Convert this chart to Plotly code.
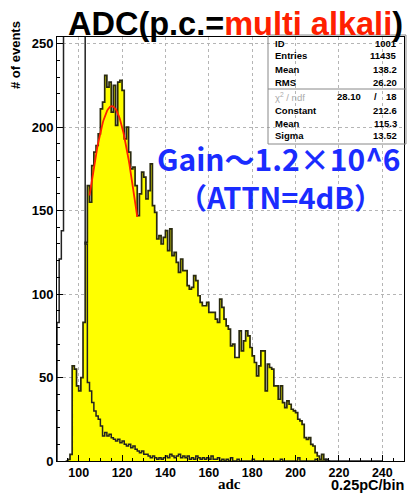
import numpy as np
import plotly.graph_objects as go

# ---------------- data ----------------
# signal histogram (yellow), bins [n, n+1)
sig_start = 94
sig_counts = [0, 1, 4, 57, 55, 45, 42, 50, 83, 131,
              165, 155, 177, 185, 189, 196, 211, 215, 231, 224,
              227, 209, 225, 201, 227, 228, 222, 193, 200, 185,
              175, 176, 165, 147, 160, 173, 170, 157, 162, 178,
              153, 149, 133, 135, 130, 134, 138, 126, 139, 123,
              125, 119, 113, 121, 114, 114, 105, 103, 104, 111,
              108, 99, 95, 93, 93, 95, 89, 89, 89, 85,
              83, 97, 92, 85, 81, 79, 69, 70, 62, 62,
              78, 66, 72, 78, 75, 68, 63, 59, 51, 57,
              66, 66, 42, 58, 56, 55, 45, 45, 37, 45,
              35, 32, 36, 34, 31, 30, 29, 25, 24, 22,
              14, 13, 14, 10, 9, 5, 3, 1, 4, 1,
              0, 0]

# pedestal / dark histogram (black outline), bins [n, n+1)
ped_start = 90
ped_counts = [83, 121, 138, 420, 980, 1850, 2400, 2100, 1500, 900,
              560, 380, 290, 130, 47, 42, 35, 30, 27, 25,
              21, 15, 17, 15, 16, 14, 13, 12, 13, 11,
              12, 10, 9, 10, 8, 9, 7, 6, 5, 6,
              4, 4, 3, 2, 3, 2, 1, 2, 1, 2,
              3, 2, 4, 3, 2, 3, 4, 2, 3, 2,
              3, 1, 2, 1, 3, 2, 1, 2, 1, 2,
              1, 3, 1, 1, 2, 0, 1, 0, 1, 0,
              2, 0, 0, 1, 0, 0, 0, 0, 0, 0,
              1, 0, 0, 0, 0, 0, 0, 0, 0, 0,
              0, 0, 0, 1, 0, 0, 0, 0, 0, 0,
              0, 2, 0, 0, 0, 0, 0, 0, 0, 1,
              0, 0, 0, 0, 1, 0, 0, 0, 0, 0,
              0, 0, 0, 0, 0, 0, 0, 0, 0, 0,
              0, 0, 0, 0, 0, 0, 0, 0, 0, 0]

# gaussian fit parameters (from stats box)
fit_const, fit_mean, fit_sigma = 212.6, 115.3, 13.52
fit_lo, fit_hi = 105.0, 127.0

stats_top = [("ID", "1001"), ("Entries", "11435"), ("Mean", "138.2"), ("RMS", "26.20")]
chi2, ndf = "28.10", "18"
stats_fit = [("Constant", "212.6"), ("Mean", "115.3"), ("Sigma", "13.52")]

x_ticks = [100, 120, 140, 160, 180, 200, 220, 240]
y_ticks = [0, 50, 100, 150, 200, 250]


def step_xy(start, counts):
    edges = list(range(start, start + len(counts) + 1))
    xs = [edges[0]] + edges
    ys = [0] + list(counts) + [0]
    return xs, ys


fig = go.Figure()

sx, sy = step_xy(sig_start, sig_counts)
fig.add_trace(go.Scatter(x=sx, y=sy, mode="lines", line_shape="hv",
                         fill="tozeroy", fillcolor="#ffff00",
                         line=dict(color="#2a2a10", width=1.7),
                         showlegend=False, hoverinfo="skip"))

px_, py_ = step_xy(ped_start, ped_counts)
fig.add_trace(go.Scatter(x=px_, y=py_, mode="lines", line_shape="hv",
                         line=dict(color="#222222", width=1.5),
                         showlegend=False, hoverinfo="skip"))

fx = np.linspace(fit_lo, fit_hi, 80)
fy = fit_const * np.exp(-0.5 * ((fx - fit_mean) / fit_sigma) ** 2)
fig.add_trace(go.Scatter(x=fx, y=fy, mode="lines",
                         line=dict(color="#ff2000", width=1.8),
                         showlegend=False, hoverinfo="skip"))

L, R, T, B = 57, 5, 37, 32
W, H = 409, 493
pw, ph = W - L - R, H - T - B


def px(X):
    return (X - L) / pw


def py(Y):
    return (H - B - Y) / ph


ann = []
# title
ann.append(dict(x=px(66), y=py(24), xref="paper", yref="paper", xanchor="left", yanchor="middle",
                text="ADC(p.c.=<span style='color:#ff2000'>multi alkali</span>)",
                showarrow=False, font=dict(family="Liberation Sans", size=32.5, color="black", weight="bold")))
# y title
ann.append(dict(x=px(15), y=py(55), xref="paper", yref="paper", xanchor="center", yanchor="middle",
                text="# of events", textangle=-90, showarrow=False,
                font=dict(family="Liberation Sans", size=13, color="black", weight="bold")))
# x title
ann.append(dict(x=px(229), y=py(484), xref="paper", yref="paper", xanchor="center", yanchor="middle",
                text="adc", showarrow=False,
                font=dict(family="Liberation Serif", size=15, color="black", weight="bold")))
ann.append(dict(x=px(406), y=py(485), xref="paper", yref="paper", xanchor="right", yanchor="middle",
                text="0.25pC/bin", showarrow=False,
                font=dict(family="Liberation Sans", size=14.5, color="black", weight="bold")))
# gain text
ann.append(dict(x=px(279), y=py(158), xref="paper", yref="paper", xanchor="center", yanchor="middle",
                text="Gain～1.2×10^6", showarrow=False,
                font=dict(family="Noto Sans CJK JP", size=30, color="#1a2cff", weight="bold")))
ann.append(dict(x=px(280), y=py(196), xref="paper", yref="paper", xanchor="center", yanchor="middle",
                text="（ATTN=4dB）", showarrow=False,
                font=dict(family="Noto Sans CJK JP", size=29, color="#1a2cff", weight="bold")))

# stats box text
sfont = dict(family="Liberation Sans", size=9.5, color="black", weight="bold")
rows_y = [43, 56, 69, 82]
for (lab, val), yy in zip(stats_top, rows_y):
    ann.append(dict(x=px(273), y=py(yy), xref="paper", yref="paper", xanchor="left", yanchor="middle",
                    text=lab, showarrow=False, font=sfont))
    ann.append(dict(x=px(399), y=py(yy), xref="paper", yref="paper", xanchor="right", yanchor="middle",
                    text=val, showarrow=False, font=sfont))
ann.append(dict(x=px(273), y=py(97), xref="paper", yref="paper", xanchor="left", yanchor="middle",
                text="χ<sup>2</sup> / ndf", showarrow=False,
                font=dict(family="Liberation Sans", size=9.5, color="#aaaaaa")))
ann.append(dict(x=px(363), y=py(97), xref="paper", yref="paper", xanchor="right", yanchor="middle",
                text=chi2, showarrow=False, font=sfont))
ann.append(dict(x=px(375), y=py(97), xref="paper", yref="paper", xanchor="center", yanchor="middle",
                text="/", showarrow=False, font=sfont))
ann.append(dict(x=px(399), y=py(97), xref="paper", yref="paper", xanchor="right", yanchor="middle",
                text=ndf, showarrow=False, font=sfont))
for (lab, val), yy in zip(stats_fit, [110, 123, 135]):
    ann.append(dict(x=px(273), y=py(yy), xref="paper", yref="paper", xanchor="left", yanchor="middle",
                    text=lab, showarrow=False, font=sfont))
    ann.append(dict(x=px(399), y=py(yy), xref="paper", yref="paper", xanchor="right", yanchor="middle",
                    text=val, showarrow=False, font=sfont))

shapes = [
    dict(type="rect", xref="paper", yref="paper", x0=px(268), x1=px(406), y0=py(144), y1=py(35),
         line=dict(color="#888888", width=1), fillcolor="rgba(0,0,0,0)", layer="above"),
    dict(type="line", xref="paper", yref="paper", x0=px(268), x1=px(406), y0=py(89), y1=py(89),
         line=dict(color="#888888", width=1), layer="above"),
]

axis_common = dict(showgrid=True, gridcolor="#b5b5b5", griddash="dot", gridwidth=1,
                   showline=True, linecolor="black", linewidth=1, mirror=True,
                   zeroline=False, ticks="inside", ticklen=6, tickcolor="black")

fig.update_layout(
    width=W, height=H, autosize=False,
    margin=dict(l=L, r=R, t=T, b=B, pad=0),
    paper_bgcolor="white", plot_bgcolor="white",
    showlegend=False,
    xaxis=dict(range=[90, 250], tickvals=x_ticks, ticktext=[str(v) for v in x_ticks],
               tickfont=dict(family="Liberation Sans", size=12.5, color="black", weight="bold"),
               minor=dict(dtick=5, ticks="inside", ticklen=3, tickcolor="black", showgrid=False),
               **axis_common),
    yaxis=dict(range=[0, 254], tickvals=y_ticks, ticktext=[str(v) for v in y_ticks],
               tickfont=dict(family="Liberation Sans", size=13, color="black", weight="bold"),
               minor=dict(dtick=10, ticks="inside", ticklen=3, tickcolor="black", showgrid=False),
               **axis_common),
    annotations=ann,
    shapes=shapes,
)

fig.write_html("out.html")
